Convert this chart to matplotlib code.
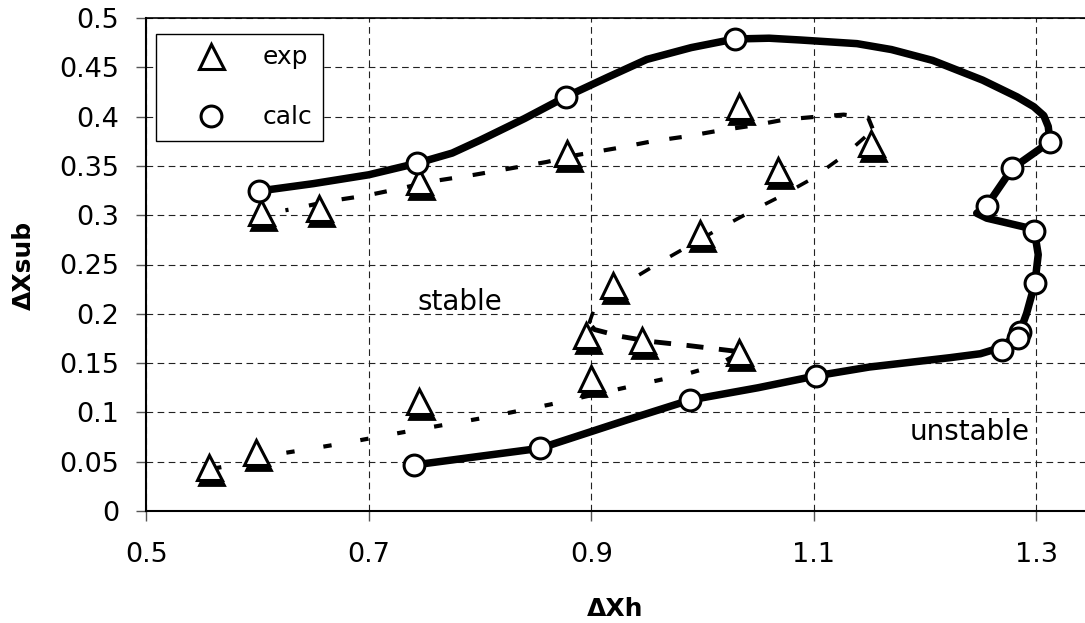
import matplotlib
matplotlib.use("Agg")
import matplotlib.pyplot as plt
import matplotlib.transforms as mtransforms

plt.rcParams['font.family'] = ['DejaVu Sans']

# ---- data ----
exp_x = [0.556, 0.599, 0.603, 0.655, 0.745, 0.878, 1.033, 1.152, 1.068, 0.998,
         0.920, 0.895, 0.946, 1.033, 0.900, 0.745]
exp_y = [0.045, 0.060, 0.303, 0.307, 0.335, 0.363, 0.411, 0.373, 0.346, 0.282,
         0.229, 0.179, 0.173, 0.161, 0.135, 0.112]

calc_x = [0.601, 0.743, 0.877, 1.029, 1.3126, 1.2787, 1.2557, 1.2985, 1.299,
          1.2856, 1.284, 1.269, 1.102, 0.989, 0.854, 0.741]
calc_y = [0.3245, 0.3526, 0.420, 0.4787, 0.3745, 0.3475, 0.3096, 0.2843, 0.2309,
          0.1819, 0.175, 0.163, 0.137, 0.1126, 0.0636, 0.0467]

# calc boundary curve
curve_x = [0.601, 0.65, 0.70, 0.743, 0.775, 0.80, 0.84, 0.877, 0.915, 0.95, 0.99,
           1.029, 1.06, 1.088, 1.139, 1.17, 1.207, 1.252, 1.283, 1.298, 1.307, 1.311,
           1.3126, 1.2787, 1.2557, 1.2467, 1.2557, 1.2946, 1.2985, 1.302, 1.299,
           1.2916, 1.2856, 1.269, 1.25, 1.2227, 1.15, 1.102, 1.05, 0.989, 0.932,
           0.854, 0.741]
curve_y = [0.3245, 0.332, 0.341, 0.3526, 0.363, 0.376, 0.398, 0.420, 0.440, 0.458,
           0.470, 0.4787, 0.4795, 0.4777, 0.474, 0.468, 0.457, 0.437, 0.420, 0.410,
           0.401, 0.390, 0.3745, 0.3475, 0.3096, 0.302, 0.297, 0.2867, 0.2843, 0.260,
           0.2309, 0.2005, 0.1819, 0.166, 0.1595, 0.1555, 0.146, 0.137, 0.125, 0.1126,
           0.0923, 0.0636, 0.0467]

# exp boundary (dashed), four pieces
exp1_x = [0.560, 0.575, 0.614, 0.647, 0.679, 0.712, 0.746, 0.806, 0.863, 0.926, 0.986, 1.013, 1.030]
exp1_y = [0.043, 0.046, 0.057, 0.063, 0.069, 0.076, 0.083, 0.095, 0.108, 0.124, 0.139, 0.148, 0.158]
exp4_x = [1.030, 0.986, 0.953, 0.927, 0.903, 0.898]
exp4_y = [0.162, 0.168, 0.172, 0.177, 0.184, 0.190]
exp3_x = [0.898, 0.903, 0.938, 0.963, 1.013, 1.049, 1.070, 1.097, 1.128, 1.153]
exp3_y = [0.190, 0.206, 0.236, 0.253, 0.285, 0.307, 0.319, 0.336, 0.361, 0.386]
exp2_x = [1.153, 1.149, 1.127, 1.104, 1.074, 1.046, 1.016, 0.986, 0.955, 0.923, 0.887,
          0.860, 0.830, 0.795, 0.755, 0.728, 0.698, 0.663, 0.635, 0.625]
exp2_y = [0.388, 0.399, 0.402, 0.400, 0.397, 0.391, 0.386, 0.380, 0.375, 0.368, 0.361,
          0.354, 0.348, 0.341, 0.334, 0.327, 0.320, 0.314, 0.307, 0.305]

xticks = [0.5, 0.7, 0.9, 1.1, 1.3]
xticklabels = ['0.5', '0.7', '0.9', '1.1', '1.3']
yticks = [0, 0.05, 0.1, 0.15, 0.2, 0.25, 0.3, 0.35, 0.4, 0.45, 0.5]
yticklabels = ['0', '0.05', '0.1', '0.15', '0.2', '0.25', '0.3', '0.35', '0.4', '0.45', '0.5']

# ---- figure ----
W, H = 1085, 623
fig = plt.figure(figsize=(W / 100, H / 100), dpi=100)
L, R, B, T = 146.4, 1085, 511, 18
ax = fig.add_axes([L / W, (H - B) / H, (R - L) / W, (B - T) / H])
ax.set_xlim(0.5, 0.5 + (R - L) / 1112.0)
ax.set_ylim(0, 0.5)

ax.set_xticks(xticks)
ax.set_xticklabels(xticklabels)
ax.set_yticks(yticks)
ax.set_yticklabels(yticklabels)
ax.tick_params(axis='both', direction='out', length=7.2, width=1, color='#555555',
               labelsize=19.5, labelcolor='black')
ax.tick_params(axis='y', pad=12.5)
ax.tick_params(axis='x', pad=15)

ax.grid(True, color='#222222', linewidth=0.8, linestyle=(0, (6, 4)))
ax.set_axisbelow(True)
for s in ['left', 'bottom']:
    ax.spines[s].set_linewidth(1.5)
    ax.spines[s].set_color('black')
ax.spines['top'].set_linewidth(1.2)
ax.spines['right'].set_visible(False)

# exp boundary dashed lines
ax.plot(exp1_x, exp1_y, color='black', lw=3.0, dashes=(2.0, 7.0), zorder=3)
ax.plot(exp4_x, exp4_y, color='black', lw=3.5, dashes=(3.5, 3.2), zorder=3)
ax.plot(exp3_x, exp3_y, color='black', lw=2.6, dashes=(3.5, 6.5), zorder=3)
ax.plot(exp2_x, exp2_y, color='black', lw=3.0, dashes=(3.0, 5.0), zorder=3)

# calc boundary
ax.plot(curve_x, curve_y, color='black', lw=5.4, solid_joinstyle='round',
        solid_capstyle='round', zorder=4)

# triangle shadows
shadow = mtransforms.offset_copy(ax.transData, fig=fig, x=2, y=-5, units='dots')
ax.plot(exp_x, exp_y, linestyle='none', marker='^', ms=18, mfc='black', mec='black',
        mew=2.0, transform=shadow, zorder=5)
ax.plot(exp_x, exp_y, linestyle='none', marker='^', ms=18, mfc='white', mec='black',
        mew=2.2, zorder=6, label='exp')
ax.plot(calc_x, calc_y, linestyle='none', marker='o', ms=15, mfc='white', mec='black',
        mew=2.2, zorder=7, label='calc')

ax.text(0.782, 0.2123, 'stable', fontsize=20, ha='center', va='center', zorder=8)
ax.text(1.2406, 0.0801, 'unstable', fontsize=20, ha='center', va='center', zorder=8)

leg = ax.legend(loc='upper left', bbox_to_anchor=(156 / W, 1 - 34 / H),
                bbox_transform=fig.transFigure, borderaxespad=0, frameon=True,
                fancybox=False, framealpha=1, edgecolor='black', fontsize=18,
                handlelength=3.5, handletextpad=0.3, borderpad=0.45, labelspacing=1.45)
leg.get_frame().set_linewidth(1.0)

fig.text(615.5 / W, 1 - 609 / H, 'ΔXh', fontsize=18, fontweight='bold',
         ha='center', va='center')
fig.text(24 / W, 1 - 265 / H, 'ΔXsub', fontsize=18, fontweight='bold',
         ha='center', va='center', rotation=90)

fig.savefig('out.png', dpi=100)
